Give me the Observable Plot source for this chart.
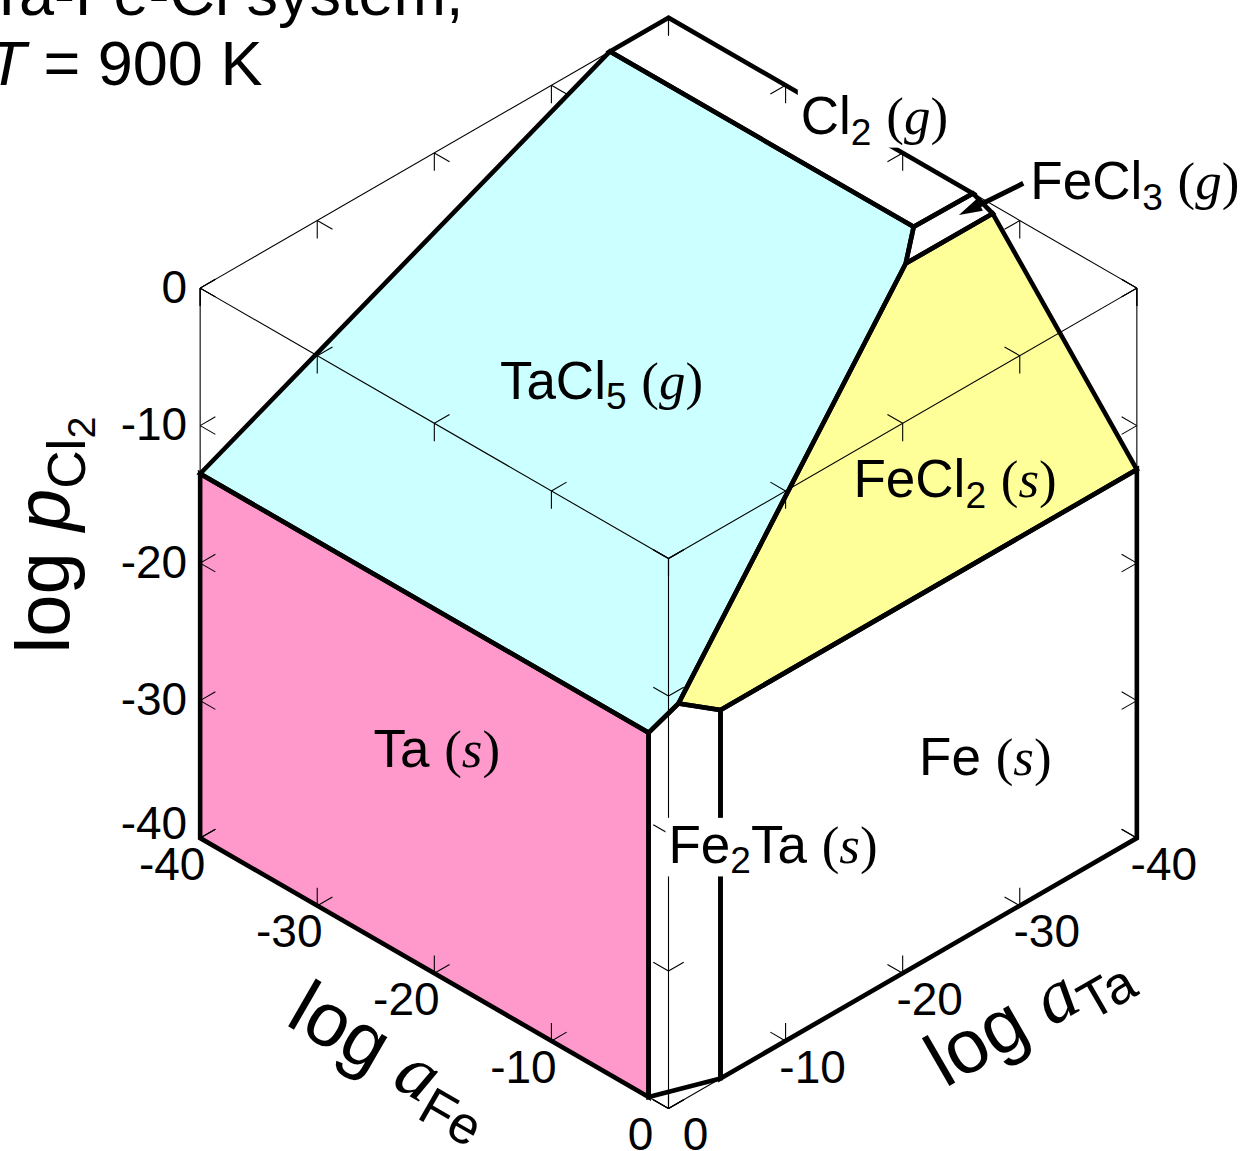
<!DOCTYPE html>
<html>
<head>
<meta charset="utf-8">
<script src="https://cdn.jsdelivr.net/npm/d3@7"></script>
<script src="https://cdn.jsdelivr.net/npm/@observablehq/plot@0.6"></script>
<style>
  html, body { margin: 0; padding: 0; background: #fff; }
  #chart { width: 1246px; height: 1151px; overflow: hidden; }
  svg { display: block; }
  text { white-space: pre; }
</style>
</head>
<body>
<div id="chart"></div>
<script>
// Chemical potential diagram of the Ta–Fe–Cl system at 900 K.
// Every point is [log aFe, log aTa, log pCl2].

const tickValues = [-40, -30, -20, -10, 0];

// Stability fields (planar polygons in the 3-D potential space)
const taSolid    = [[-40, 0, -40], [-40, 0, -13.5], [-1.7, 0, -13.5], [-1.7, 0, -40]];
const fe2taSolid = [[-1.7, 0, -40], [-1.7, 0, -13.5], [-1.0, -1.85, -11.95], [0, -4.44, -13.2], [0, -4.44, -40]];
const feSolid    = [[0, -4.44, -40], [0, -4.44, -13.2], [0, -40, -13.2], [0, -40, -40]];
const tacl5Gas   = [[-40, 0, -13.5], [-40, -35, 0], [-14.06, -35, 0], [-12.45, -32.71, -0.75], [-1.0, -1.85, -11.95], [-1.7, 0, -13.5]];
const fecl2Solid = [[-12.45, -32.71, -0.75], [-12.31, -40, -0.63], [0, -40, -13.2], [0, -4.44, -13.2], [-1.0, -1.85, -11.95]];
const fecl3Gas   = [[-14.06, -35, 0], [-14, -40, 0], [-12.31, -40, -0.63], [-12.45, -32.71, -0.75]];
const cl2Gas     = [[-40, -40, 0], [-40, -35, 0], [-14.06, -35, 0], [-14, -40, 0]];

// Phase names and where each name is written (in potential space)
const phaseNames  = ["Ta (s)", "Fe2Ta (s)", "Fe (s)", "TaCl5 (g)", "FeCl2 (s)", "FeCl3 (g)", "Cl2 (g)"];
const labelPoints = [[-25.2, 0, -26.3], [0, 0, -20.9], [0, -21.4, -25], [-28.5, -14.1, -8.1], [-5.6, -21.4, -7.6], [-12.4, -43.3, 0], [-27, -38.3, 0]];

// Pointer from the FeCl3 label to its narrow field
const arrowTail = [-12.6, -42.9, 0];
const arrowTip  = [-13.0, -37.8, 0];

// Bounding-box edges: null marks the coordinate that runs from -40 to 0
const boxEdges = [
  [null, 0, 0], [0, null, 0], [null, -40, 0], [-40, null, 0],
  [-40, 0, null], [0, 0, null], [0, -40, null],
  [null, 0, -40], [0, null, -40]
];

// ---- styling ----
const SANS = "'Liberation Sans', Arial, Helvetica, sans-serif";
const SERIF = "'Liberation Serif', 'Times New Roman', Times, serif";
const phaseFill = {
  "Ta (s)": "#ff99cc", "Fe2Ta (s)": "#ffffff", "Fe (s)": "#ffffff",
  "TaCl5 (g)": "#ccffff", "FeCl2 (s)": "#ffff99", "FeCl3 (g)": "#ffffff", "Cl2 (g)": "#ffffff"
};
const phases = [
  {name: "Ta (s)", vertices: taSolid},
  {name: "Fe2Ta (s)", vertices: fe2taSolid},
  {name: "Fe (s)", vertices: feSolid},
  {name: "TaCl5 (g)", vertices: tacl5Gas},
  {name: "FeCl2 (s)", vertices: fecl2Solid},
  {name: "FeCl3 (g)", vertices: fecl3Gas},
  {name: "Cl2 (g)", vertices: cl2Gas}
];

// ---- isometric view ----
const W = 1246, H = 1151;
const PX = 13.52;                 // pixels per log unit
const ORIGIN_X = 668, ORIGIN_Y = 1108; // screen position of (0, 0, -40)
const COS30 = Math.sqrt(3) / 2;
const Z_STRETCH = 1.017;          // the pCl2 axis is drawn slightly longer
const TICK_LEN = 1.3;

function proj([a, b, p]) {
  return {u: (a - b) * COS30, v: (p + 40) * Z_STRETCH - 0.5 * (a + b)};
}

// box edges and inward tick marks
const edgeSegs = [];
const tickSegs = [];
for (const e of boxEdges) {
  const k = e.indexOf(null);
  const at = (t) => e.map((c, i) => (i === k ? t : c));
  const p0 = proj(at(-40)), p1 = proj(at(0));
  edgeSegs.push({u1: p0.u, v1: p0.v, u2: p1.u, v2: p1.v});
  for (const t of tickValues) {
    const P = at(t);
    const s = proj(P);
    e.forEach((c, i) => {
      if (i === k) return;
      const Q = P.slice();
      Q[i] += (c === 0 ? -1 : 1) * TICK_LEN;
      const q = proj(Q);
      tickSegs.push({u1: s.u, v1: s.v, u2: q.u, v2: q.v});
    });
  }
}

// arrow geometry
const tail = proj(arrowTail), tip = proj(arrowTip);
const sdx = (tip.u - tail.u) * PX, sdy = -(tip.v - tail.v) * PX;
const slen = Math.hypot(sdx, sdy);
const headAngle = Math.atan2(sdx, -sdy) * 180 / Math.PI;
const shaftEnd = {u: tip.u - (tip.u - tail.u) * 14 / slen, v: tip.v - (tip.v - tail.v) * 14 / slen};
const arrowHead = {
  draw(context, size) {
    const r = Math.sqrt(size / Math.PI);
    context.moveTo(0, 0);
    context.lineTo(0.75 * r, 2.6 * r);
    context.lineTo(-0.75 * r, 2.6 * r);
    context.closePath();
  }
};

const labelData = phaseNames.map((name, i) => ({name, ...proj(labelPoints[i])}));

// rich text (subscripts, serif phase symbols, italics)
function phaseSegments(name) {
  const m = name.match(/^(\S+)\s*\((\w)\)$/);
  const segs = m[1].match(/\d+|\D+/g).map((part) => (/\d/.test(part) ? {t: part, sub: 1} : {t: part}));
  segs.push({t: " "}, {t: "(", serif: true}, {t: m[2], serif: true, italic: true}, {t: ")", serif: true});
  return segs;
}
const LABEL_SIZE = 53, TICK_SIZE = 46, AXIS_SIZE = 76, TITLE_SIZE = 63;
const richText = new Map();
for (const n of phaseNames) richText.set(n, {size: LABEL_SIZE, segs: phaseSegments(n)});
richText.set("log pCl2", {size: AXIS_SIZE, segs: [{t: "log "}, {t: "p", italic: true}, {t: "Cl", sub: 1}, {t: "2", sub: 2}]});
richText.set("log aFe", {size: AXIS_SIZE, segs: [{t: "log "}, {t: "a", serif: true, italic: true}, {t: "Fe", sub: 1}]});
richText.set("log aTa", {size: AXIS_SIZE, segs: [{t: "log "}, {t: "a", serif: true, italic: true}, {t: "Ta", sub: 1}]});
richText.set("T = 900 K", {size: TITLE_SIZE, segs: [{t: "T", italic: true}, {t: " = 900 K"}]});
const boxedLabels = new Set(["Cl2 (g)", "Fe2Ta (s)"]);

const axisMid = {fe: proj([-20, 0, -40]), ta: proj([0, -20, -40]), p: proj([-40, 0, -20])};

const chart = Plot.plot({
  width: W,
  height: H,
  margin: 0,
  x: {domain: [-ORIGIN_X / PX, (W - ORIGIN_X) / PX], axis: null},
  y: {domain: [(ORIGIN_Y - H) / PX, ORIGIN_Y / PX], axis: null},
  style: {fontFamily: SANS, background: "white", color: "black"},
  marks: [
    // filled stability fields
    ...phases.map((ph) => Plot.line(ph.vertices.map(proj), {
      x: "u", y: "v", curve: "linear-closed", fill: phaseFill[ph.name], stroke: "none"
    })),
    // bounding box with ticks
    Plot.link(edgeSegs, {x1: "u1", y1: "v1", x2: "u2", y2: "v2", stroke: "#000", strokeWidth: 1.1}),
    Plot.link(tickSegs, {x1: "u1", y1: "v1", x2: "u2", y2: "v2", stroke: "#000", strokeWidth: 1.1}),
    // field boundaries
    ...phases.map((ph) => Plot.line(ph.vertices.map(proj), {
      x: "u", y: "v", curve: "linear-closed", fill: "none", stroke: "#000",
      strokeWidth: 4.6, strokeLinejoin: "miter", strokeMiterlimit: 4
    })),
    // FeCl3 pointer
    Plot.link([{tail, end: shaftEnd}], {
      x1: (d) => d.tail.u, y1: (d) => d.tail.v, x2: (d) => d.end.u, y2: (d) => d.end.v,
      stroke: "#000", strokeWidth: 5, strokeLinecap: "butt"
    }),
    Plot.dot([tip], {x: "u", y: "v", r: 9, symbol: arrowHead, rotate: headAngle, fill: "#000", stroke: "none"}),
    // phase names
    Plot.text(labelData, {
      x: "u", y: "v", text: "name", textAnchor: "start", lineAnchor: "middle",
      fontSize: LABEL_SIZE, fill: "#000"
    }),
    // tick labels
    Plot.text(tickValues, {
      x: (t) => proj([t, 0, -40]).u, y: (t) => proj([t, 0, -40]).v, text: (t) => String(t),
      dx: -28, dy: 27, fontSize: TICK_SIZE, fill: "#000"
    }),
    Plot.text(tickValues, {
      x: (t) => proj([0, t, -40]).u, y: (t) => proj([0, t, -40]).v, text: (t) => String(t),
      dx: 27, dy: 27, fontSize: TICK_SIZE, fill: "#000"
    }),
    Plot.text(tickValues.filter((t) => t > -40), {
      x: (t) => proj([-40, 0, t]).u, y: (t) => proj([-40, 0, t]).v, text: (t) => String(t),
      textAnchor: "end", dx: -13, fontSize: TICK_SIZE, fill: "#000"
    }),
    Plot.text(tickValues.filter((t) => t === -40), {
      x: (t) => proj([-40, 0, t]).u, y: (t) => proj([-40, 0, t]).v, text: (t) => String(t),
      textAnchor: "end", dx: -13, dy: -14, fontSize: TICK_SIZE, fill: "#000"
    }),
    // axis titles
    Plot.text(["log pCl2"], {
      x: axisMid.p.u, y: axisMid.p.v, text: (d) => d, rotate: -90,
      dx: -155, dy: -28, fontSize: AXIS_SIZE, fill: "#000"
    }),
    Plot.text(["log aFe"], {
      x: axisMid.fe.u, y: axisMid.fe.v, text: (d) => d, rotate: 30,
      dx: -42, dy: 85, fontSize: AXIS_SIZE, fill: "#000"
    }),
    Plot.text(["log aTa"], {
      x: axisMid.ta.u, y: axisMid.ta.v, text: (d) => d, rotate: -30,
      dx: 124, dy: 40, fontSize: AXIS_SIZE, fill: "#000"
    }),
    // title
    Plot.text(["Ta-Fe-Cl system,"], {
      frameAnchor: "top-left", text: (d) => d, textAnchor: "start", lineAnchor: "bottom",
      dx: -13, dy: 14, fontSize: TITLE_SIZE, fill: "#000"
    }),
    Plot.text(["T = 900 K"], {
      frameAnchor: "top-left", text: (d) => d, textAnchor: "start", lineAnchor: "bottom",
      dx: -13, dy: 84, fontSize: TITLE_SIZE, fill: "#000"
    })
  ]
});

document.getElementById("chart").appendChild(chart);

// Turn plain label strings into tspans with subscripts and font changes,
// and put a white box behind the labels that sit on boundary lines.
const SVGNS = "http://www.w3.org/2000/svg";
const SHIFT = [0, 0.2, 0.34];
const SCALE = [1, 0.7, 0.52];
for (const text of chart.querySelectorAll("text")) {
  const key = text.textContent;
  const spec = richText.get(key);
  if (!spec) continue;
  text.textContent = "";
  let level = 0;
  for (const s of spec.segs) {
    const lvl = s.sub || 0;
    const ts = document.createElementNS(SVGNS, "tspan");
    ts.textContent = s.t;
    ts.setAttribute("font-size", spec.size * SCALE[lvl]);
    ts.setAttribute("font-family", s.serif ? SERIF : SANS);
    if (s.italic) ts.setAttribute("font-style", "italic");
    const dy = (SHIFT[lvl] - SHIFT[level]) * spec.size;
    if (dy) ts.setAttribute("dy", dy);
    level = lvl;
    text.appendChild(ts);
  }
  if (boxedLabels.has(key)) {
    const bb = text.getBBox();
    const rect = document.createElementNS(SVGNS, "rect");
    rect.setAttribute("x", bb.x - 3);
    rect.setAttribute("y", bb.y + 3);
    rect.setAttribute("width", bb.width + 6);
    rect.setAttribute("height", bb.height - 8);
    rect.setAttribute("fill", "#ffffff");
    rect.setAttribute("stroke", "none");
    const tr = text.getAttribute("transform");
    if (tr) rect.setAttribute("transform", tr);
    text.parentNode.insertBefore(rect, text);
  }
}
</script>
</body>
</html>
